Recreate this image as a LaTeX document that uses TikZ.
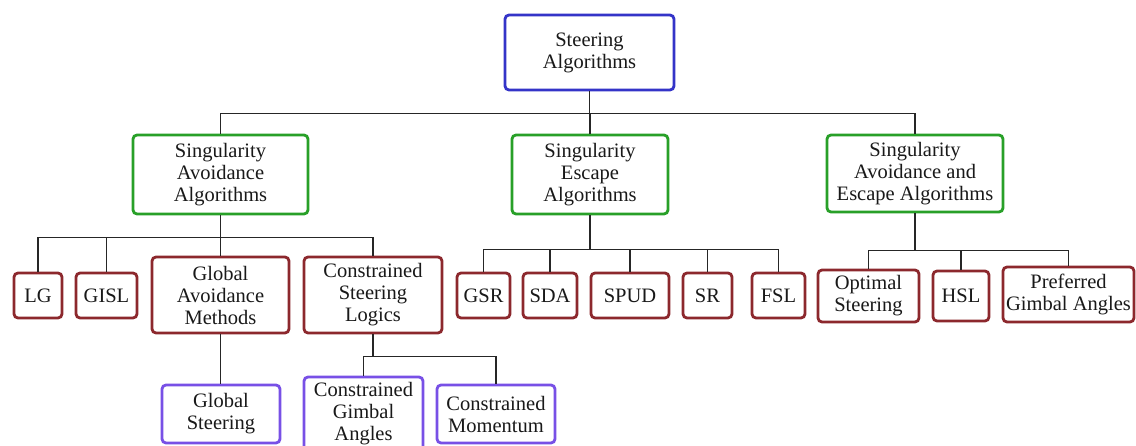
\documentclass[tikz,border=0pt]{standalone}
\usepackage{fontspec}
\setmainfont{Liberation Serif}
\usetikzlibrary{positioning}

\definecolor{rootblue}{RGB}{52,52,200}
\definecolor{groupgreen}{RGB}{40,160,40}
\definecolor{algred}{RGB}{140,40,45}
\definecolor{subpurple}{RGB}{120,80,230}

\tikzset{
  box/.style={draw, line width=2.8pt, rounded corners=4pt, fill=white, align=center,
    inner sep=0pt, text=black!90, font=\fontsize{20.5}{22}\selectfont},
  rootbox/.style={box, draw=rootblue},
  groupbox/.style={box, draw=groupgreen},
  algbox/.style={box, draw=algred},
  subbox/.style={box, draw=subpurple},
  link/.style={line width=1.6pt, black!85},
}

\begin{document}
\begin{tikzpicture}[x=1pt, y=-1pt]
    \useasboundingbox (0,0) rectangle (1136,446);

    % Top
    \node[rootbox, minimum width=169pt, minimum height=75pt] (root) at (589.5,52.5) {Steering\\Algorithms};

    % Groups
    \node[groupbox, minimum width=175pt, minimum height=79pt] (saa) at (220.5,174.5) {Singularity\\Avoidance\\Algorithms};
    \node[groupbox, minimum width=156pt, minimum height=79pt] (sea) at (590,174.5) {Singularity\\Escape\\Algorithms};
    \node[groupbox, minimum width=176pt, minimum height=77pt] (saea) at (915,173.5) {Singularity\\Avoidance and\\Escape Algorithms};

    % Avoidance algorithms
    \node[algbox, minimum width=48pt, minimum height=45pt] (lg) at (38,295.5) {LG};
    \node[algbox, minimum width=61pt, minimum height=45pt] (gisl) at (106.5,295.5) {GISL};
    \node[algbox, minimum width=137pt, minimum height=76pt] (gam) at (220.5,295) {Global\\Avoidance\\Methods};
    \node[algbox, minimum width=138pt, minimum height=76pt] (csl) at (373,295) {Constrained\\Steering\\Logics};

    % Escape algorithms
    \node[algbox, minimum width=53pt, minimum height=45pt] (gsr) at (483.5,295.5) {GSR};
    \node[algbox, minimum width=54pt, minimum height=45pt] (sda) at (550,295.5) {SDA};
    \node[algbox, minimum width=78pt, minimum height=45pt] (spud) at (630,295.5) {SPUD};
    \node[algbox, minimum width=49pt, minimum height=45pt] (sr) at (707.5,295.5) {SR};
    \node[algbox, minimum width=53pt, minimum height=45pt] (fsl) at (778.5,295.5) {FSL};

    % Avoidance and escape
    \node[algbox, minimum width=101pt, minimum height=52pt] (opt) at (868.5,296) {Optimal\\Steering};
    \node[algbox, minimum width=56pt, minimum height=50pt] (hsl) at (961,296) {HSL};
    \node[algbox, minimum width=131pt, minimum height=55pt] (pga) at (1068.5,294.5) {Preferred\\Gimbal Angles};

    % Bottom level
    \node[subbox, minimum width=118pt, minimum height=58pt] (gs) at (221,414) {Global\\Steering};
    \node[subbox, minimum width=119pt, minimum height=74pt] (cga) at (363.5,414) {Constrained\\Gimbal\\Angles};
    \node[subbox, minimum width=118pt, minimum height=58pt] (cm) at (496,414) {Constrained\\Momentum};

    % Links
    \foreach \c in {saa, sea, saea}
      \draw[link] (root.south) -- ++(0,22) -| (\c.north);
    \foreach \c in {lg, gisl, gam, csl}
      \draw[link] (saa.south) -- ++(0,22) -| (\c.north);
    \foreach \c in {gsr, sda, spud, sr, fsl}
      \draw[link] (sea.south) -- ++(0,34) -| (\c.north);
    \foreach \c in {opt, hsl, pga}
      \draw[link] (saea.south) -- ++(0,37) -| (\c.north);
    \draw[link] (gam.south) -- (gam.south |- gs.north);
    \foreach \c in {cga, cm}
      \draw[link] (csl.south) -- ++(0,22) -| (\c.north);
  \end{tikzpicture}
\end{document}
